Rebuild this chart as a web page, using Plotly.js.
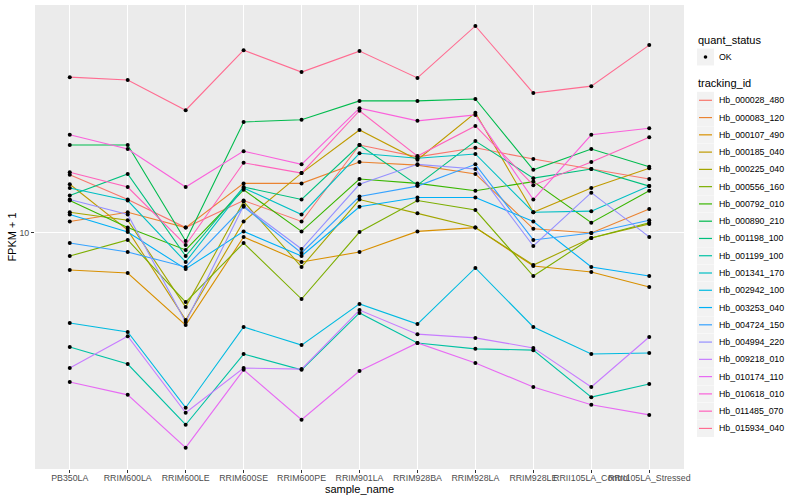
<!DOCTYPE html>
<html><head><meta charset="utf-8">
<script src="https://cdn.plot.ly/plotly-3.0.1.min.js"></script>
<style>html,body{margin:0;padding:0;background:#fff}#chart{width:800px;height:500px}</style>
</head><body><div id="chart"></div>
<script>
const sampleNames = ["PB350LA","RRIM600LA","RRIM600LE","RRIM600SE","RRIM600PE","RRIM901LA","RRIM928BA","RRIM928LA","RRIM928LE","RRII105LA_Control","RRII105LA_Stressed"];
const trackingIds = ["Hb_000028_480","Hb_000083_120","Hb_000107_490","Hb_000185_040","Hb_000225_040","Hb_000556_160","Hb_000792_010","Hb_000890_210","Hb_001198_100","Hb_001199_100","Hb_001341_170","Hb_002942_100","Hb_003253_040","Hb_004724_150","Hb_004994_220","Hb_009218_010","Hb_010174_110","Hb_010618_010","Hb_011485_070","Hb_015934_040"];
const seriesColors = ["#F8766D","#EA8331","#D89000","#C09B00","#A3A500","#7CAE00","#39B600","#00BB4E","#00BF7D","#00C1A3","#00BFC4","#00BAE0","#00B0F6","#35A2FF","#9590FF","#C77CFF","#E76BF3","#FA62DB","#FF62BC","#FF6C91"];
const yTickVals = [10];
const quantStatus = ["OK"];

// FPKM + 1 per tracking_id, in sample order
const Hb_000028_480 = [15.6, 12.9, 10.4, 12.8, 10.9, 19.6, 17.9, 19.2, 17.6, 16.3, 15.1];
const Hb_000083_120 = [10.9, 11.7, 10.4, 14.6, 14.6, 17.2, 16.8, 15.7, 10.3, 9.98, 12.0];
const Hb_000107_490 = [7.51, 7.34, 4.92, 9.68, 7.99, 8.62, 10.1, 10.4, 7.74, 7.40, 6.59];
const Hb_000185_040 = [14.5, 10.2, 5.12, 10.9, 15.8, 22.0, 17.5, 25.1, 11.7, 14.1, 16.4];
const Hb_000225_040 = [11.7, 11.0, 5.65, 12.7, 7.69, 12.9, 11.6, 10.4, 7.80, 9.60, 10.7];
const Hb_000556_160 = [8.36, 9.46, 5.87, 9.24, 6.01, 10.05, 12.8, 11.9, 7.17, 9.60, 10.8];
const Hb_000792_010 = [12.8, 10.4, 8.76, 13.9, 10.1, 15.1, 14.6, 13.8, 14.8, 10.8, 13.8];
const Hb_000890_210 = [19.6, 19.6, 9.38, 23.4, 23.8, 27.5, 27.5, 27.9, 16.2, 19.0, 16.6];
const Hb_001198_100 = [13.3, 15.7, 8.36, 14.2, 12.9, 19.6, 14.4, 20.2, 15.2, 16.3, 14.3];
const Hb_001199_100 = [4.16, 3.65, 2.29, 3.94, 3.49, 5.40, 4.29, 4.10, 4.06, 2.83, 3.13];
const Hb_001341_170 = [14.1, 12.8, 7.99, 14.1, 11.5, 18.4, 17.7, 18.3, 11.7, 11.8, 14.3];
const Hb_002942_100 = [5.00, 4.67, 2.61, 4.85, 4.22, 5.79, 4.96, 7.63, 4.85, 3.94, 3.97];
const Hb_003253_040 = [11.5, 10.05, 7.57, 10.1, 8.36, 12.2, 13.1, 13.1, 10.9, 7.69, 7.17];
const Hb_004724_150 = [9.24, 8.62, 7.69, 12.2, 8.56, 13.2, 14.3, 16.9, 9.46, 9.98, 11.0];
const Hb_004994_220 = [12.9, 11.5, 5.04, 12.3, 8.82, 14.5, 16.9, 16.3, 9.03, 13.6, 9.68];
const Hb_009218_010 = [3.54, 4.52, 2.51, 3.54, 3.51, 5.52, 4.59, 4.46, 4.13, 3.06, 4.49];
const Hb_010174_110 = [3.18, 2.88, 1.92, 3.49, 2.38, 3.46, 4.29, 3.68, 3.06, 2.67, 2.47];
const Hb_010618_010 = [21.2, 19.0, 14.2, 18.7, 16.9, 26.0, 23.6, 24.7, 12.9, 21.2, 22.3];
const Hb_011485_070 = [15.9, 14.2, 9.10, 17.1, 15.8, 25.5, 18.0, 22.7, 14.4, 17.2, 20.8];
const Hb_015934_040 = [33.0, 32.3, 25.6, 40.6, 34.3, 40.3, 32.8, 48.9, 29.2, 30.8, 42.2];

const seriesValues = [Hb_000028_480,Hb_000083_120,Hb_000107_490,Hb_000185_040,Hb_000225_040,Hb_000556_160,Hb_000792_010,Hb_000890_210,Hb_001198_100,Hb_001199_100,Hb_001341_170,Hb_002942_100,Hb_003253_040,Hb_004724_150,Hb_004994_220,Hb_009218_010,Hb_010174_110,Hb_010618_010,Hb_011485_070,Hb_015934_040];

const FONT = "Liberation Sans, Arial, Helvetica, sans-serif";
const M = {l: 35, r: 116, t: 5, b: 31};
const W = 800 - M.l - M.r, H = 500 - M.t - M.b;
const px = v => (v - M.l) / W;
const py = v => 1 - (v - M.t) / H;

const traces = [];
trackingIds.forEach((id, i) => {
  traces.push({type: "scatter", mode: "lines", name: id, x: sampleNames, y: seriesValues[i],
    line: {color: seriesColors[i], width: 1.1}, showlegend: false, hoverinfo: "skip"});
});
trackingIds.forEach((id, i) => {
  traces.push({type: "scatter", mode: "markers", name: id + " " + quantStatus[0], x: sampleNames, y: seriesValues[i],
    marker: {color: "#000000", size: 4}, showlegend: false});
});

// hand-built ggplot-style legend
const shapes = [], annotations = [];
const keyX0 = 697, keyX1 = 714, textX = 717;
annotations.push({xref: "paper", yref: "paper", x: px(696), y: py(40), xanchor: "left", yanchor: "middle",
  text: "quant_status", showarrow: false, font: {family: FONT, size: 11, color: "#000"}});
shapes.push({type: "rect", xref: "paper", yref: "paper", x0: px(keyX0), x1: px(keyX1), y0: py(48.5), y1: py(65.5),
  fillcolor: "#F2F2F2", line: {width: 0}});
shapes.push({type: "circle", xref: "paper", yref: "paper", x0: px(703.7), x1: px(707.3), y0: py(55.2), y1: py(58.8),
  fillcolor: "#000", line: {width: 0}});
annotations.push({xref: "paper", yref: "paper", x: px(textX), y: py(57), xanchor: "left", yanchor: "middle",
  text: quantStatus[0], showarrow: false, font: {family: FONT, size: 8.8, color: "#000"}});
annotations.push({xref: "paper", yref: "paper", x: px(696), y: py(83), xanchor: "left", yanchor: "middle",
  text: "tracking_id", showarrow: false, font: {family: FONT, size: 11, color: "#000"}});
trackingIds.forEach((id, i) => {
  const c = 100.3 + i * 17.27;
  shapes.push({type: "rect", xref: "paper", yref: "paper", x0: px(keyX0), x1: px(keyX1), y0: py(c - 8.5), y1: py(c + 8.5),
    fillcolor: "#F2F2F2", line: {width: 0}});
  shapes.push({type: "line", xref: "paper", yref: "paper", x0: px(699), x1: px(712), y0: py(c), y1: py(c),
    line: {color: seriesColors[i], width: 1.2}});
  annotations.push({xref: "paper", yref: "paper", x: px(textX), y: py(c), xanchor: "left", yanchor: "middle",
    text: id, showarrow: false, font: {family: FONT, size: 8.8, color: "#000"}});
});

const layout = {
  width: 800, height: 500,
  margin: M,
  paper_bgcolor: "#FFFFFF", plot_bgcolor: "#EBEBEB",
  font: {family: FONT, color: "#000"},
  showlegend: false,
  xaxis: {type: "category", categoryorder: "array", categoryarray: sampleNames, range: [-0.6, 10.6],
    showgrid: true, gridcolor: "#FFFFFF", gridwidth: 1.1, zeroline: false, showline: false,
    ticks: "outside", ticklen: 3, tickwidth: 1, tickcolor: "#333333", tickangle: 0, ticklabelstandoff: -3,
    tickfont: {family: FONT, size: 8.8, color: "#4D4D4D"},
    title: {text: "sample_name", font: {family: FONT, size: 11, color: "#000"}, standoff: 1}},
  yaxis: {type: "log", range: [0.2123, 1.759], tickvals: yTickVals, ticktext: yTickVals.map(String),
    showgrid: true, gridcolor: "#FFFFFF", gridwidth: 1.1, zeroline: false, showline: false,
    ticks: "outside", ticklen: 3, tickwidth: 1, tickcolor: "#333333",
    tickfont: {family: FONT, size: 8.8, color: "#4D4D4D"},
    title: {text: "FPKM + 1", font: {family: FONT, size: 11, color: "#000"}, standoff: 0}},
  shapes: shapes, annotations: annotations
};
Plotly.newPlot("chart", traces, layout, {staticPlot: true, displayModeBar: false});
</script></body></html>
